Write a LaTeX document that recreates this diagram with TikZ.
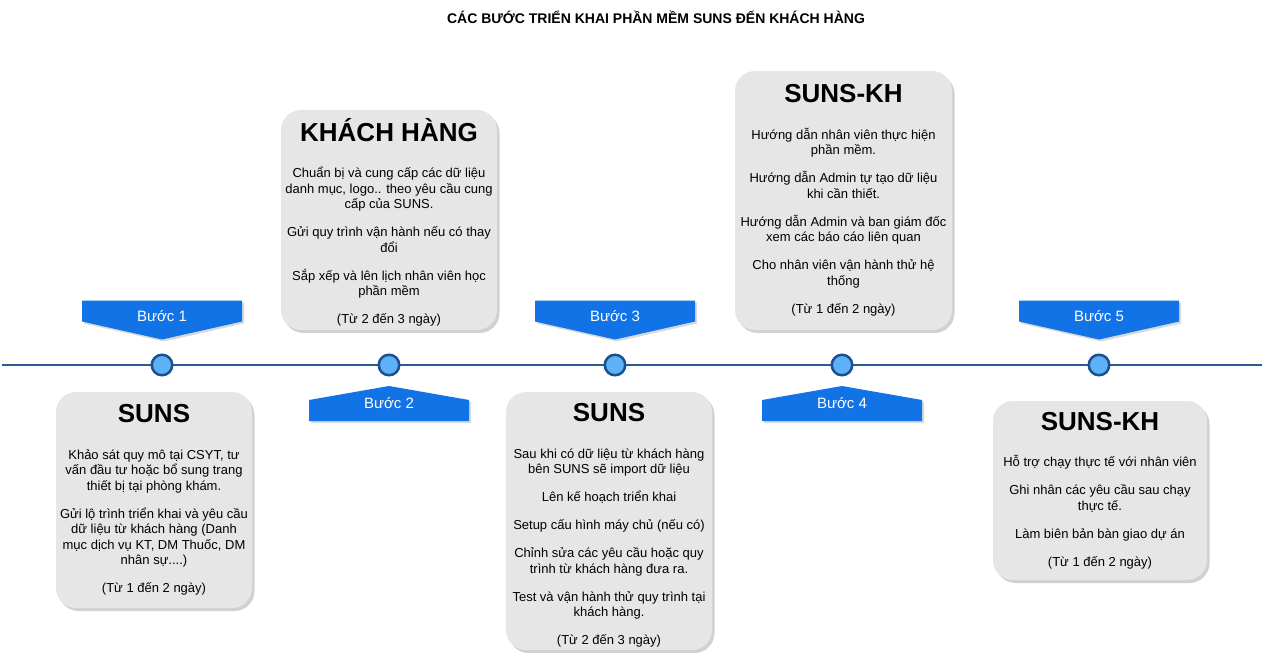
\documentclass[tikz,border=0pt]{standalone}
\usepackage{fontspec}
\setmainfont{Liberation Sans}
\usetikzlibrary{positioning}
\usetikzlibrary{shadows, backgrounds}
\definecolor{boxgray}{HTML}{E6E6E6}
\definecolor{stepblue}{HTML}{1273E6}
\definecolor{linedark}{HTML}{2B5A96}
\definecolor{dotfill}{HTML}{5DB2F7}
\definecolor{dotline}{HTML}{1B4F8E}
\newcommand{\titlefont}{\fontsize{26}{30}\bfseries\selectfont}
\newcommand{\bodyfont}{\fontsize{13}{15.5}\selectfont}
\tikzset{%
	% Specifications for style of nodes:
	infobox/.style = {rectangle, rounded corners=20pt, fill=boxgray,
		drop shadow={shadow xshift=2.5pt, shadow yshift=-3pt, fill=black!45, opacity=.4},
		inner xsep=0pt, inner ysep=0pt, outer sep=0pt,
		align=center, font=\bodyfont},
	steptext/.style = {minimum width=160pt, inner sep=0pt, outer sep=0pt,
		text=white, font=\fontsize{15}{18}\selectfont,
		text height=10.5pt},
	stepdown/.style = {steptext, minimum height=39pt, text depth=7pt},
	stepup/.style = {steptext, minimum height=35pt, text depth=0pt},
	stepfill/.style = {fill=stepblue,
		drop shadow={shadow xshift=2pt, shadow yshift=-2pt, fill=black!60, opacity=.25}},
	dot/.style = {circle, minimum size=20.5pt, inner sep=0pt,
		fill=dotfill, draw=dotline, line width=2.5pt},
	timeline/.style = {draw=linedark, line width=2pt},
}
\begin{document}
\begin{tikzpicture}[x=1pt, y=-1pt]
	\useasboundingbox (0,0) rectangle (1274,663);
	
	\node (title) at (656,17) {\fontsize{14}{16}\bfseries\selectfont CÁC BƯỚC TRIỂN KHAI PHẦN MỀM SUNS ĐẾN KHÁCH HÀNG};
	
	% timeline with the five points
	\coordinate (tlstart) at (2,365);
	\coordinate (tlend) at (1262,365);
	\draw[timeline] (tlstart) -- (tlend);
	\node (dot1) [dot] at (162,365) {};
	\node (dot2) [dot] at (389,365) {};
	\node (dot3) [dot] at (615,365) {};
	\node (dot4) [dot] at (842,365) {};
	\node (dot5) [dot] at (1099,365) {};
	
	% step labels
	\node (step1) [stepdown, above=14pt of dot1] {Bước 1};
	\node (step2) [stepup, below=9.5pt of dot2] {Bước 2};
	\node (step3) [stepdown, above=14pt of dot3] {Bước 3};
	\node (step4) [stepup, below=9.5pt of dot4] {Bước 4};
	\node (step5) [stepdown, above=14pt of dot5] {Bước 5};
	\begin{scope}[on background layer]
		\foreach \s in {step1, step3, step5}
		\fill[stepfill] (\s.north west) -- (\s.north east) -- ([yshift=18pt]\s.south east)
		-- (\s.south) -- ([yshift=18pt]\s.south west) -- cycle;
		\foreach \s in {step2, step4}
		\fill[stepfill] (\s.south west) -- (\s.south east) -- ([yshift=-14pt]\s.north east)
		-- (\s.north) -- ([yshift=-14pt]\s.north west) -- cycle;
	\end{scope}
	
	% description boxes
	\node (suns1) [infobox, below=15.5pt of dot1, xshift=-8pt, minimum width=196pt, minimum height=216pt] {%
		{\titlefont SUNS}\\[21pt]
		Khảo sát quy mô tại CSYT, tư\\ vấn đầu tư hoặc bổ sung trang\\ thiết bị tại phòng khám.\\[12.5pt]
		Gửi lộ trình triển khai và yêu cầu\\ dữ liệu từ khách hàng (Danh\\ mục dịch vụ KT, DM Thuốc, DM\\ nhân sự....)\\[12.5pt]
		(Từ 1 đến 2 ngày)};
	\node (client) [infobox, above=23.5pt of dot2, minimum width=216pt, minimum height=220pt] {%
		{\titlefont\rule{0pt}{28pt}KHÁCH HÀNG}\\[21pt]
		Chuẩn bị và cung cấp các dữ liệu\\ danh mục, logo.. theo yêu cầu cung\\ cấp của SUNS.\\[12.5pt]
		Gửi quy trình vận hành nếu có thay\\ đổi\\[12.5pt]
		Sắp xếp và lên lịch nhân viên học\\ phần mềm\\[12.5pt]
		(Từ 2 đến 3 ngày)};
	\node (suns3) [infobox, below=15.5pt of dot3, xshift=-6pt, minimum width=206pt, minimum height=258pt] {%
		{\titlefont\rule{0pt}{27pt}SUNS}\\[21pt]
		Sau khi có dữ liệu từ khách hàng\\ bên SUNS sẽ import dữ liệu\\[12.5pt]
		Lên kế hoạch triển khai\\[12.5pt]
		Setup cấu hình máy chủ (nếu có)\\[12.5pt]
		Chỉnh sửa các yêu cầu hoặc quy\\ trình từ khách hàng đưa ra.\\[12.5pt]
		Test và vận hành thử quy trình tại\\ khách hàng.\\[12.5pt]
		(Từ 2 đến 3 ngày)};
	\node (sunskh4) [infobox, above=23.5pt of dot4, xshift=1.5pt, minimum width=217pt, minimum height=259pt] {%
		{\titlefont SUNS-KH}\\[21pt]
		Hướng dẫn nhân viên thực hiện\\ phần mềm.\\[12.5pt]
		Hướng dẫn Admin tự tạo dữ liệu\\ khi cần thiết.\\[12.5pt]
		Hướng dẫn Admin và ban giám đốc\\ xem các báo cáo liên quan\\[12.5pt]
		Cho nhân viên vận hành thử hệ\\ thống\\[12.5pt]
		(Từ 1 đến 2 ngày)};
	\node (sunskh5) [infobox, below=24.5pt of dot5, xshift=1pt, minimum width=214pt, minimum height=179pt] {%
		{\titlefont SUNS-KH}\\[21pt]
		Hỗ trợ chạy thực tế với nhân viên\\[12.5pt]
		Ghi nhân các yêu cầu sau chạy\\ thực tế.\\[12.5pt]
		Làm biên bản bàn giao dự án\\[12.5pt]
		(Từ 1 đến 2 ngày)};
\end{tikzpicture}
\end{document}
